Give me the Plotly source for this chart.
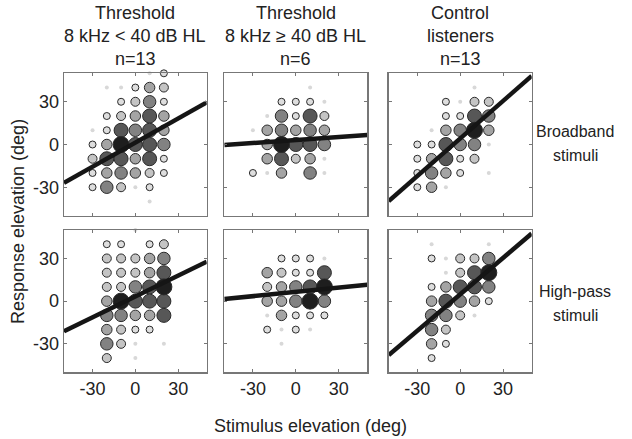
import plotly.graph_objects as go

# ---------------- data ----------------
stim_elev = [-30, -20, -10, 0, 10, 20]                     # columns
resp_elev = [50, 40, 30, 20, 10, 0, -10, -20, -30, -40]    # rows

# response-frequency level per (response row, stimulus column); 0 = no response
bb_mild = [
    [0, 0, 0, 0, 1, 2],
    [0, 1, 1, 2, 4, 3],
    [0, 0, 2, 3, 5, 2],
    [0, 2, 3, 4, 6, 4],
    [1, 2, 6, 5, 6, 4],
    [2, 4, 7, 6, 6, 5],
    [3, 6, 6, 4, 6, 2],
    [2, 4, 5, 4, 3, 2],
    [2, 5, 3, 1, 2, 0],
    [0, 0, 0, 0, 1, 0],
]
bb_severe = [
    [0, 0, 0, 0, 0, 0],
    [0, 0, 0, 0, 1, 0],
    [0, 0, 2, 2, 2, 1],
    [0, 1, 5, 2, 6, 3],
    [1, 4, 5, 4, 5, 4],
    [0, 4, 7, 6, 6, 5],
    [0, 4, 6, 3, 4, 1],
    [2, 1, 4, 0, 5, 1],
    [0, 0, 0, 0, 0, 0],
    [0, 0, 0, 0, 0, 0],
]
bb_control = [
    [0, 0, 0, 0, 0, 0],
    [0, 0, 0, 0, 1, 0],
    [0, 0, 2, 1, 3, 3],
    [0, 0, 2, 2, 6, 5],
    [0, 1, 4, 5, 7, 4],
    [2, 2, 6, 5, 5, 1],
    [2, 4, 6, 2, 3, 0],
    [2, 5, 4, 2, 0, 1],
    [2, 4, 1, 0, 0, 0],
    [0, 0, 0, 0, 0, 0],
]
hp_mild = [
    [0, 0, 0, 1, 0, 0],
    [0, 2, 2, 0, 2, 3],
    [0, 3, 3, 3, 4, 5],
    [0, 3, 3, 3, 4, 6],
    [0, 3, 3, 5, 6, 7],
    [0, 4, 7, 6, 6, 6],
    [0, 5, 5, 4, 4, 6],
    [0, 4, 3, 2, 2, 0],
    [0, 5, 3, 1, 0, 1],
    [0, 3, 0, 1, 0, 0],
]
hp_severe = [
    [0, 0, 0, 0, 0, 0],
    [0, 0, 0, 0, 0, 0],
    [0, 0, 2, 2, 2, 1],
    [0, 4, 3, 2, 2, 6],
    [0, 3, 4, 5, 6, 7],
    [0, 4, 4, 5, 7, 5],
    [0, 1, 4, 2, 2, 2],
    [0, 2, 1, 2, 1, 0],
    [0, 0, 1, 0, 0, 0],
    [0, 0, 0, 0, 0, 0],
]
hp_control = [
    [0, 0, 0, 0, 0, 0],
    [0, 1, 0, 0, 0, 1],
    [0, 2, 1, 3, 3, 5],
    [0, 0, 1, 3, 6, 7],
    [0, 2, 4, 6, 6, 5],
    [0, 4, 6, 5, 4, 2],
    [0, 5, 5, 3, 1, 0],
    [0, 5, 3, 0, 0, 0],
    [0, 4, 2, 0, 0, 0],
    [0, 2, 0, 0, 0, 0],
]

# regression lines (slope, intercept) per panel
fit_slope = [0.565, 0.071, 0.88, 0.489, 0.10, 0.854]
fit_intercept = [1.3, 3.2, 4.2, 3.3, 6.5, 4.8]

col_titles = [
    ["Threshold", "8 kHz < 40 dB HL", "n=13"],
    ["Threshold", "8 kHz \u2265 40 dB HL", "n=6"],
    ["Control", "listeners", "n=13"],
]
row_labels = [["Broadband", "stimuli"], ["High-pass", "stimuli"]]
tick_vals = [-30, 0, 30]
tick_text = ["-30", "0", "30"]
x_title = "Stimulus elevation (deg)"
y_title = "Response elevation (deg)"

panels = [bb_mild, bb_severe, bb_control, hp_mild, hp_severe, hp_control]

# ---------------- styles ----------------
W, H = 632, 439
FONT = "Liberation Sans, Arial, Helvetica, sans-serif"
FS = 18
FS_ROW = 16
level_size = [0, 4, 7, 9, 10.5, 12.5, 14, 16]
level_fill = ["#ffffff", "#d8d8d8", "#dedede", "#c4c4c4", "#a4a4a4",
              "#828282", "#575757", "#1e1e1e"]

col_px = [(64, 206.7), (224.3, 367.3), (388.7, 531.7)]
row_px = [(73.3, 215.7), (230, 372.3)]

fig = go.Figure()
layout = dict(
    width=W, height=H, margin=dict(l=0, r=0, t=0, b=0),
    paper_bgcolor="white", plot_bgcolor="white", showlegend=False,
    font=dict(family=FONT, size=FS, color="#222"),
)

for i, grid in enumerate(panels):
    r, c = divmod(i, 3)
    ax = "" if i == 0 else str(i + 1)
    xs, ys, lv = [], [], []
    for ri, yv in enumerate(resp_elev):
        for ci, xv in enumerate(stim_elev):
            if grid[ri][ci] > 0:
                xs.append(xv)
                ys.append(yv)
                lv.append(grid[ri][ci])
    order = sorted(range(len(lv)), key=lambda k: lv[k])
    xs = [xs[k] for k in order]
    ys = [ys[k] for k in order]
    lv = [lv[k] for k in order]
    fig.add_trace(go.Scatter(
        x=xs, y=ys, mode="markers", xaxis="x" + ax, yaxis="y" + ax,
        cliponaxis=False, hoverinfo="skip",
        marker=dict(
            size=[level_size[v] for v in lv],
            color=[level_fill[v] for v in lv],
            line=dict(color="#2a2a2a", width=[0 if v == 1 else 1 for v in lv]),
            opacity=1,
        ),
    ))
    lx = [-50, 50]
    ly = [fit_intercept[i] + fit_slope[i] * v for v in lx]
    fig.add_trace(go.Scatter(
        x=lx, y=ly, mode="lines", xaxis="x" + ax, yaxis="y" + ax,
        hoverinfo="skip", line=dict(color="#151515", width=4.5),
    ))
    x0, x1 = col_px[c]
    y0, y1 = row_px[r]
    common = dict(range=[-50, 50], tickvals=tick_vals, ticktext=tick_text,
                  ticks="inside", ticklen=3,
                  tickcolor="#777", showline=True, linecolor="#777", linewidth=1.3,
                  mirror="ticks", showgrid=False, zeroline=False, fixedrange=True,
                  tickfont=dict(family=FONT, size=FS, color="#222"))
    layout["xaxis" + ax] = dict(common, domain=[x0 / W, x1 / W], anchor="y" + ax,
                                showticklabels=(r == 1))
    layout["yaxis" + ax] = dict(common, domain=[1 - y1 / H, 1 - y0 / H], anchor="x" + ax,
                                showticklabels=(c == 0))

annotations = []
title_cx = [135.3, 295.8, 460.2]
title_cy = [13, 36, 59]
for c, lines in enumerate(col_titles):
    for k, txt in enumerate(lines):
        annotations.append(dict(text=txt, x=title_cx[c] / W, y=1 - title_cy[k] / H,
                                xref="paper", yref="paper", showarrow=False,
                                xanchor="center", yanchor="middle"))
row_cy = [(131, 155), (291, 315)]
for r, lines in enumerate(row_labels):
    for k, txt in enumerate(lines):
        annotations.append(dict(text=txt, x=575 / W, y=1 - row_cy[r][k] / H,
                                xref="paper", yref="paper", showarrow=False,
                                xanchor="center", yanchor="middle",
                                font=dict(size=FS_ROW)))
annotations.append(dict(text=x_title, x=310 / W, y=1 - 426 / H, xref="paper", yref="paper",
                        showarrow=False, xanchor="center", yanchor="middle"))
annotations.append(dict(text=y_title, x=18 / W, y=1 - 222 / H, xref="paper", yref="paper",
                        showarrow=False, xanchor="center", yanchor="middle", textangle=-90))
layout["annotations"] = annotations

fig.update_layout(**layout)
fig.write_html(
    "out.html",
    config={"displayModeBar": False, "staticPlot": True},
    post_script="document.body.style.margin='0';document.body.style.padding='0';"
                "document.documentElement.style.overflow='hidden';",
)
